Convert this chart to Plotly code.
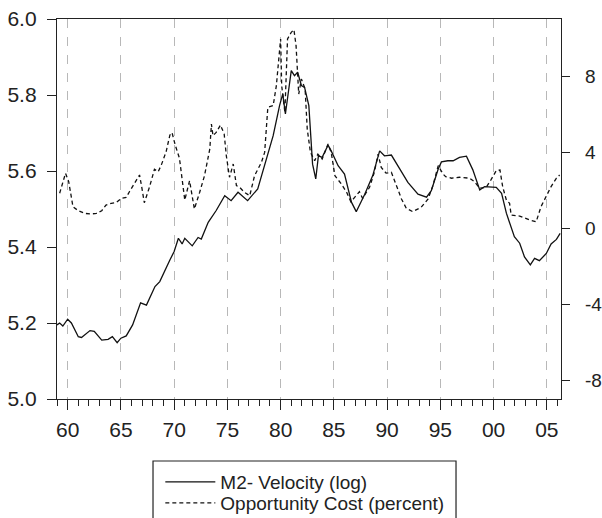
import plotly.graph_objects as go

# M2 velocity (log) - left axis
vel_t = [1959.0, 1959.25, 1959.55, 1960.0, 1960.35, 1961.0, 1961.3, 1962.1, 1962.5, 1963.2,
         1963.8, 1964.2, 1964.65, 1965.0, 1965.5, 1966.1, 1966.85, 1967.4, 1968.2, 1968.65,
         1969.6, 1970.0, 1970.4, 1970.75, 1971.0, 1971.45, 1971.7, 1972.25, 1972.55, 1973.2,
         1973.95, 1974.75, 1975.35, 1976.0, 1976.9, 1977.85, 1978.5, 1979.3, 1979.9, 1980.2,
         1980.45, 1981.0, 1981.3, 1981.6, 1981.95, 1982.25, 1982.65, 1983.0, 1983.3, 1983.55,
         1983.9, 1984.45, 1984.75, 1985.4, 1986.0, 1986.65, 1987.1, 1987.9, 1988.65, 1989.3,
         1989.75, 1990.4, 1991.2, 1991.95, 1992.9, 1993.7, 1994.15, 1994.8, 1995.1, 1995.7,
         1996.2, 1996.8, 1997.45, 1998.05, 1998.7, 1999.15, 2000.25, 2000.75, 2001.2, 2001.95,
         2002.45, 2002.9, 2003.45, 2003.85, 2004.3, 2004.95, 2005.4, 2005.9, 2006.25]
vel_v = [5.195, 5.200, 5.192, 5.210, 5.200, 5.164, 5.162, 5.180, 5.178, 5.155,
         5.157, 5.164, 5.148, 5.160, 5.166, 5.195, 5.253, 5.247, 5.296, 5.309,
         5.366, 5.388, 5.423, 5.408, 5.423, 5.411, 5.403, 5.425, 5.421, 5.465,
         5.496, 5.535, 5.522, 5.544, 5.522, 5.553, 5.614, 5.693, 5.772, 5.803,
         5.750, 5.864, 5.851, 5.860, 5.825, 5.820, 5.772, 5.618, 5.579, 5.640,
         5.636, 5.668, 5.653, 5.614, 5.592, 5.518, 5.493, 5.539, 5.588, 5.653,
         5.640, 5.642, 5.605, 5.570, 5.539, 5.531, 5.548, 5.605, 5.624, 5.627,
         5.627, 5.636, 5.639, 5.603, 5.550, 5.559, 5.557, 5.541, 5.489, 5.427,
         5.410, 5.374, 5.353, 5.370, 5.364, 5.383, 5.408, 5.420, 5.436]

# Opportunity cost (percent) - right axis
opp_t = [1959.25, 1959.45, 1959.8, 1960.1, 1960.5, 1961.0, 1961.6, 1962.2, 1962.7, 1963.2,
         1963.6, 1964.1, 1964.55, 1965.05, 1965.5, 1965.8, 1966.45, 1966.75, 1966.95, 1967.2,
         1967.7, 1968.15, 1968.5, 1968.8, 1969.25, 1969.6, 1969.8, 1970.1, 1970.5, 1970.8,
         1971.0, 1971.45, 1971.9, 1972.4, 1972.85, 1973.35, 1973.5, 1973.65, 1973.95, 1974.35,
         1974.7, 1974.9, 1975.2, 1975.55, 1975.85, 1976.15, 1976.6, 1977.1, 1977.55, 1978.2,
         1978.5, 1978.8, 1979.3, 1979.6, 1979.9, 1980.0, 1980.1, 1980.4, 1980.65, 1981.0,
         1981.25, 1981.45, 1981.7, 1981.95, 1982.3, 1982.5, 1982.8, 1983.2, 1983.5, 1983.9,
         1984.45, 1984.75, 1985.1, 1985.7, 1986.2, 1986.6, 1986.95, 1987.4, 1987.7, 1988.35,
         1988.8, 1989.15, 1989.45, 1989.9, 1990.4, 1990.85, 1991.35, 1991.8, 1992.4, 1993.2,
         1993.85, 1994.3, 1994.8, 1995.25, 1995.5, 1996.05, 1996.8, 1997.75, 1998.2, 1998.7,
         1999.3, 1999.75, 2000.25, 2000.6, 2000.85, 2001.2, 2001.5, 2001.65, 2002.45, 2003.4,
         2004.0, 2004.45, 2004.95, 2005.4, 2005.9, 2006.2]
opp_v = [1.83, 2.26, 2.88, 2.44, 1.12, 0.91, 0.77, 0.74, 0.77, 0.91,
         1.21, 1.30, 1.33, 1.56, 1.61, 1.91, 2.53, 2.79, 2.18, 1.33,
         2.18, 3.09, 2.96, 3.32, 4.02, 4.89, 5.02, 4.37, 3.67, 2.35,
         1.47, 2.49, 1.00, 1.88, 2.75, 4.16, 5.47, 4.86, 5.03, 5.42,
         4.95, 3.81, 2.67, 3.37, 2.23, 2.14, 1.88, 1.70, 2.75, 3.46,
         3.98, 6.35, 6.44, 7.49, 9.42, 9.95, 7.49, 6.09, 9.95, 10.30,
         10.44, 9.60, 7.05, 7.84, 7.32, 5.21, 3.98, 3.54, 3.89, 3.63,
         4.42, 3.98, 2.75, 2.32, 1.88, 1.38, 1.61, 1.91, 1.56, 2.14,
         2.93, 3.89, 3.19, 2.89, 2.93, 2.23, 1.53, 1.04, 0.86, 1.09,
         1.53, 2.23, 3.28, 2.84, 2.70, 2.62, 2.67, 2.62, 2.44, 2.09,
         2.14, 2.53, 3.02, 3.05, 2.18, 1.47, 1.30, 0.68, 0.63, 0.42,
         0.33, 1.12, 1.65, 2.18, 2.62, 2.79]

x_tickvals = [1960, 1965, 1970, 1975, 1980, 1985, 1990, 1995, 2000, 2005]
x_ticktext = ["60", "65", "70", "75", "80", "85", "90", "95", "00", "05"]
yl_tickvals = [5.0, 5.2, 5.4, 5.6, 5.8, 6.0]
yl_ticktext = ["5.0", "5.2", "5.4", "5.6", "5.8", "6.0"]
yr_tickvals = [-8, -4, 0, 4, 8]
yr_ticktext = ["-8", "-4", "0", "4", "8"]

FONT = "Liberation Sans, Arial, sans-serif"
INK = "#222222"

fig = go.Figure()
fig.add_trace(go.Scatter(x=vel_t, y=vel_v, mode="lines", name="M2- Velocity (log)",
                         line=dict(color="#111111", width=1.3), yaxis="y",
                         legend="legend"))
fig.add_trace(go.Scatter(x=opp_t, y=opp_v, mode="lines", name="Opportunity Cost (percent)",
                         line=dict(color="#111111", width=1.3, dash="4px,3px"), yaxis="y2",
                         legend="legend2"))

legend_common = dict(xanchor="left", yanchor="middle", borderwidth=0,
                     bgcolor="rgba(0,0,0,0)", itemwidth=50,
                     font=dict(size=19, family=FONT, color=INK))

fig.update_layout(
    width=602, height=518,
    margin=dict(l=57, r=41, t=19, b=119, autoexpand=False),
    paper_bgcolor="white", plot_bgcolor="white",
    font=dict(family=FONT, size=21, color=INK),
    showlegend=True,
    legend=dict(x=0.205, y=-0.2184, **legend_common),
    legend2=dict(x=0.205, y=-0.2737, **legend_common),
    shapes=[dict(type="rect", xref="paper", yref="paper",
                 x0=0.1905, x1=0.7917, y0=-0.345, y1=-0.1632,
                 line=dict(color=INK, width=1.2), fillcolor="rgba(0,0,0,0)",
                 layer="below")],
    xaxis=dict(range=[1959.0, 2006.33], tickvals=x_tickvals, ticktext=x_ticktext,
               showline=True, mirror=True, linecolor=INK, linewidth=1.3,
               ticks="outside", ticklen=10, tickcolor=INK, tickwidth=1.2,
               showgrid=True, gridcolor="#b8b8b8", griddash="dash", gridwidth=1,
               zeroline=False, ticklabelstandoff=2, automargin=False,
               minor=dict(dtick=1, tick0=1959, ticks="outside", ticklen=6,
                          tickcolor=INK, tickwidth=1.2, showgrid=False)),
    yaxis=dict(range=[5.0, 6.0], tickvals=yl_tickvals, ticktext=yl_ticktext,
               showline=True, linecolor=INK, linewidth=1.3,
               ticks="outside", ticklen=9, tickcolor=INK, tickwidth=1.2,
               showgrid=False, zeroline=False, ticklabelstandoff=6, automargin=False),
    yaxis2=dict(range=[-9, 11], tickvals=yr_tickvals, ticktext=yr_ticktext,
                overlaying="y", side="right", tickfont=dict(size=19),
                showline=True, linecolor=INK, linewidth=1.3,
                ticks="outside", ticklen=8, tickcolor=INK, tickwidth=1.2,
                showgrid=False, zeroline=False, ticklabelstandoff=11, automargin=False),
)

fig.write_html("out.html")
